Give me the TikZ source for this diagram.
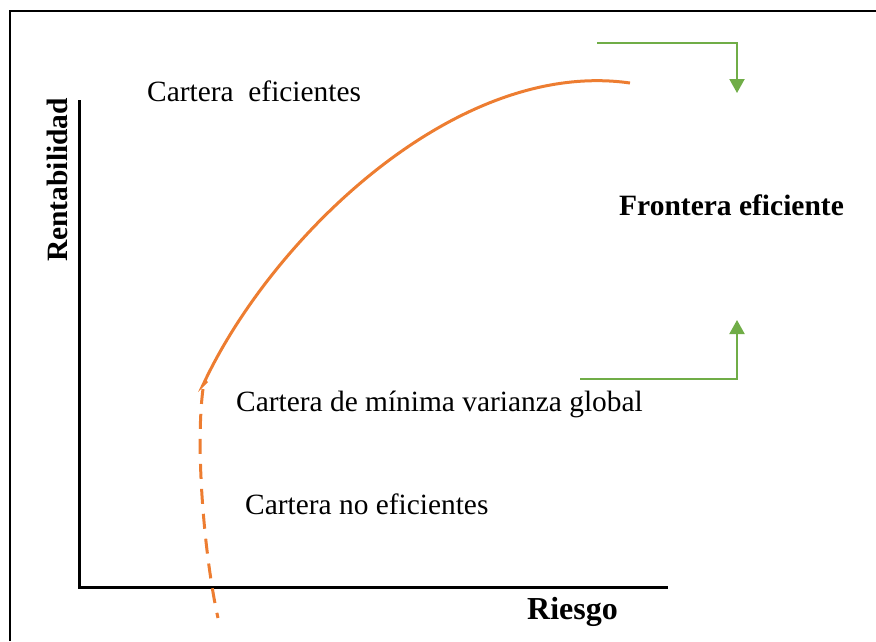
\documentclass[tikz,border=0pt]{standalone}
\usepackage{fontspec}
\setmainfont{Liberation Serif}
\usetikzlibrary{arrows.meta}
\definecolor{orng}{HTML}{ED7D31}
\definecolor{grn}{HTML}{70AD47}
\begin{document}
\begin{tikzpicture}[x=1pt,y=-1pt,
  lbl/.style={inner sep=0pt, font=\fontsize{29.4}{34}\selectfont},
  blbl/.style={inner sep=0pt, font=\fontsize{29.5}{34}\selectfont\bfseries},
  axisline/.style={line width=3pt, black},
  frontier/.style={line width=3pt, orng},
  greenarrow/.style={line width=2pt, grn, -{Triangle[width=15pt,length=14pt]}}]
\useasboundingbox (0,0) rectangle (876,641);
% frame (only left and top edges are visible)
\coordinate (fbl) at (10,641);
\coordinate (ftl) at (10,11);
\coordinate (ftr) at (876,11);
\draw[line width=2pt] (fbl) -- (ftl) -- (ftr);
% axes
\coordinate (ytop) at (79,100);
\coordinate (O) at (79,587);
\coordinate (xend) at (668,587);
\draw[axisline] (ytop) -- (O) -- (xend);
% frontier
\coordinate (mv) at (203,385);
\coordinate (hk) at (207,381);
\coordinate (ds) at (203,389);
\coordinate (fe) at (630,83);
\coordinate (de) at (218,618);
\draw[frontier] (hk) -- (mv) .. controls (270,240) and (455,58) .. (fe);
\draw[frontier, dash pattern=on 15pt off 10pt] (ds) .. controls (195,450) and (205,560) .. (de);
% green arrows
\coordinate (ga1) at (597,43);
\coordinate (ga2) at (737,43);
\coordinate (ga3) at (737,93);
\draw[greenarrow] (ga1) -- (ga2) -- (ga3);
\coordinate (gb1) at (580,379);
\coordinate (gb2) at (737,379);
\coordinate (gb3) at (737,320);
\draw[greenarrow] (gb1) -- (gb2) -- (gb3);
% labels
\node[lbl, anchor=base west] (ce) at (147,101) {Cartera\ \ eficientes};
\node[lbl, anchor=base west] (cmv) at (236,411) {Cartera de mínima varianza global};
\node[lbl, anchor=base west] (cne) at (245,514) {Cartera no eficientes};
\node[blbl, anchor=base west] (fr) at (619,215) {Frontera eficiente};
\node[inner sep=0pt, font=\fontsize{32}{36}\selectfont\bfseries, anchor=base west] (ri) at (527,619) {Riesgo};
\node[blbl, anchor=base west, rotate=90] (re) at (67,262) {Rentabilidad};
\end{tikzpicture}
\end{document}
